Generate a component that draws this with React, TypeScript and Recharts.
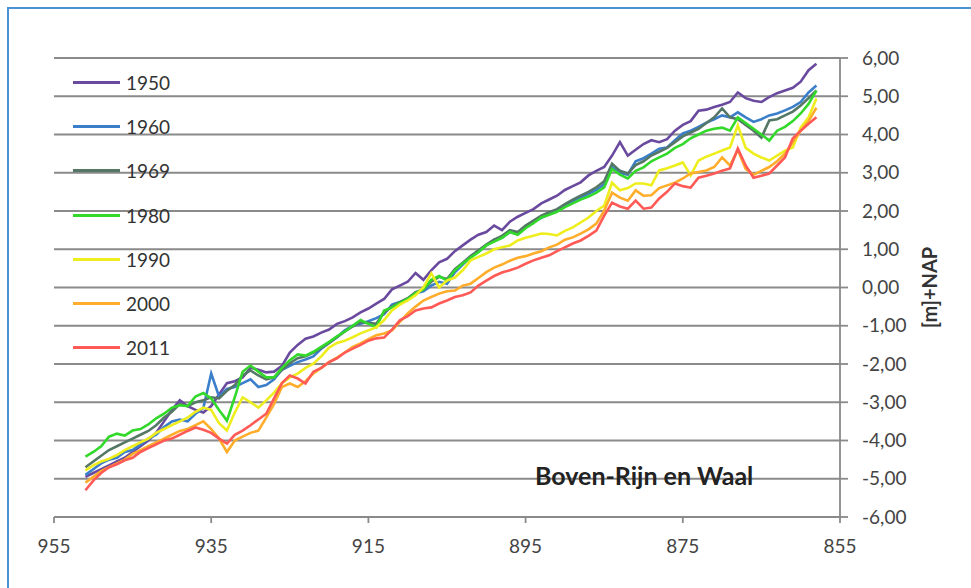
import React from "react"
import { LineChart, Line, XAxis, YAxis, CartesianGrid, Legend } from "recharts"

// rivierkilometer (Boven-Rijn en Waal), van benedenstrooms naar bovenstrooms
const KM = [
  951, 950, 949, 948, 947, 946, 945, 944, 943, 942,
  941, 940, 939, 938, 937, 936, 935, 934, 933, 932,
  931, 930, 929, 928, 927, 926, 925, 924, 923, 922,
  921, 920, 919, 918, 917, 916, 915, 914, 913, 912,
  911, 910, 909, 908, 907, 906, 905, 904, 903, 902,
  901, 900, 899, 898, 897, 896, 895, 894, 893, 892,
  891, 890, 889, 888, 887, 886, 885, 884, 883, 882,
  881, 880, 879, 878, 877, 876, 875, 874, 873, 872,
  871, 870, 869, 868, 867, 866, 865, 864, 863, 862,
  861, 860, 859, 858,
]

const Y1950 = [
  -4.95, -4.85, -4.75, -4.65, -4.55, -4.45, -4.3, -4.15, -4.0, -3.8,
  -3.5, -3.2, -2.95, -3.1, -3.2, -3.27, -3.1, -2.8, -2.5, -2.45,
  -2.35, -2.1, -2.15, -2.22, -2.2, -2.05, -1.7, -1.5, -1.34, -1.28,
  -1.18, -1.1, -0.95, -0.88, -0.78, -0.65, -0.55, -0.42, -0.3, -0.05,
  0.05, 0.15, 0.38, 0.2, 0.45, 0.66, 0.75, 0.95, 1.1, 1.25,
  1.38, 1.45, 1.62, 1.5, 1.72, 1.85, 1.95, 2.05, 2.2, 2.3,
  2.4, 2.55, 2.65, 2.75, 2.93, 3.05, 3.15, 3.45, 3.8, 3.45,
  3.6, 3.75, 3.85, 3.8, 3.88, 4.1, 4.25, 4.35, 4.62, 4.65,
  4.72, 4.78, 4.85, 5.1, 4.95, 4.88, 4.85, 4.98, 5.08, 5.15,
  5.22, 5.38, 5.68, 5.85,
]

const Y1960 = [
  -4.9, -4.75, -4.6, -4.5, -4.45, -4.3, -4.25, -4.1, -3.95, -3.85,
  -3.65, -3.5, -3.45, -3.5, -3.3, -3.15, -2.25, -2.85, -2.65, -2.6,
  -2.5, -2.4, -2.6, -2.55, -2.4, -2.15, -2.05, -1.95, -1.88, -1.8,
  -1.6, -1.45, -1.3, -1.12, -1.0, -0.95, -0.88, -0.8, -0.7, -0.45,
  -0.38, -0.3, -0.15, -0.1, 0.05, 0.15, 0.1, 0.4, 0.6, 0.8,
  0.95, 1.1, 1.25, 1.3, 1.45, 1.4, 1.6, 1.72, 1.82, 1.92,
  2.0, 2.15, 2.25, 2.35, 2.45, 2.55, 2.7, 3.15, 3.0, 2.95,
  3.3, 3.38, 3.5, 3.63, 3.66, 3.85, 4.03, 4.1, 4.2, 4.31,
  4.4, 4.5, 4.45, 4.58, 4.45, 4.33, 4.4, 4.5, 4.55, 4.63,
  4.72, 4.85, 5.1, 5.28,
]

const Y1969 = [
  -4.7, -4.55, -4.4, -4.25, -4.15, -4.05, -3.95, -3.85, -3.75, -3.6,
  -3.4, -3.25, -3.05, -3.1, -3.0, -2.95, -2.87, -2.9, -2.7, -2.55,
  -2.3, -2.17, -2.3, -2.4, -2.35, -2.15, -1.98, -1.85, -1.8, -1.7,
  -1.58, -1.45, -1.3, -1.15, -1.02, -0.9, -0.92, -0.95, -0.65, -0.5,
  -0.38, -0.28, -0.12, -0.05, 0.15, 0.28, 0.22, 0.48, 0.65, 0.82,
  0.97, 1.12, 1.25, 1.35, 1.5, 1.45, 1.62, 1.75, 1.88, 1.97,
  2.05, 2.18, 2.3, 2.4, 2.5, 2.62, 2.78, 3.24, 3.05, 2.98,
  3.2, 3.3, 3.45, 3.55, 3.65, 3.8, 3.95, 4.05, 4.15, 4.3,
  4.45, 4.68, 4.45, 4.4, 4.25, 4.1, 3.92, 4.37, 4.4, 4.5,
  4.6, 4.76, 4.95, 5.15,
]

const Y1980 = [
  -4.42, -4.3, -4.15, -3.9, -3.82, -3.87, -3.74, -3.7, -3.58, -3.42,
  -3.3, -3.14, -3.08, -3.1, -2.85, -2.76, -2.9, -3.2, -3.48, -2.87,
  -2.2, -2.04, -2.2, -2.35, -2.35, -2.1, -1.9, -1.75, -1.78, -1.68,
  -1.55, -1.42, -1.28, -1.15, -1.0, -0.85, -0.95, -1.04, -0.6, -0.52,
  -0.4, -0.3, -0.15, -0.05, 0.2, 0.3, 0.18, 0.45, 0.63, 0.78,
  0.92, 1.1, 1.2, 1.3, 1.45, 1.38, 1.55, 1.68, 1.83, 1.9,
  1.98, 2.1, 2.2, 2.3, 2.38, 2.48, 2.62, 3.1, 2.95, 2.85,
  3.05, 3.14, 3.3, 3.4, 3.5, 3.65, 3.75, 3.9, 4.0, 4.1,
  4.15, 4.18, 4.1, 4.45, 4.3, 4.15, 4.0, 3.84, 4.1, 4.2,
  4.35, 4.55, 4.8, 5.15,
]

const Y1990 = [
  -4.78, -4.65, -4.55, -4.48, -4.38, -4.25, -4.15, -4.05, -3.95, -3.8,
  -3.7, -3.6, -3.5, -3.4, -3.25, -3.14, -3.2, -3.55, -3.74, -3.27,
  -2.87, -3.0, -3.14, -2.95, -2.75, -2.5, -2.35, -2.25, -2.1, -1.99,
  -1.8, -1.57, -1.45, -1.39, -1.3, -1.2, -1.12, -1.04, -0.85, -0.6,
  -0.45, -0.34, -0.2, 0.0, 0.37, 0.0, 0.18, 0.26, 0.45, 0.71,
  0.8, 0.89, 1.0, 1.05, 1.1, 1.23, 1.3, 1.35, 1.41, 1.4,
  1.36, 1.48, 1.57, 1.7, 1.83, 2.0, 2.14, 2.74, 2.54, 2.6,
  2.72, 2.72, 2.67, 3.06, 3.12, 3.19, 3.27, 2.93, 3.32, 3.42,
  3.5, 3.58, 3.66, 4.24, 3.65, 3.5, 3.4, 3.32, 3.45, 3.58,
  3.66, 4.18, 4.45, 4.94,
]

const Y2000 = [
  -5.1, -4.95, -4.8, -4.7, -4.6, -4.5, -4.35, -4.25, -4.15, -4.05,
  -3.95, -3.85, -3.75, -3.7, -3.6, -3.5, -3.7, -3.95, -4.3, -4.0,
  -3.9, -3.8, -3.74, -3.4, -3.04, -2.6, -2.51, -2.6, -2.45, -2.25,
  -2.1, -1.95, -1.83, -1.7, -1.55, -1.46, -1.35, -1.25, -1.2, -1.12,
  -0.9, -0.68, -0.5, -0.34, -0.25, -0.16, -0.1, -0.08, 0.05, 0.1,
  0.25, 0.4, 0.52, 0.6, 0.7, 0.78, 0.82, 0.89, 0.95, 1.05,
  1.12, 1.25, 1.31, 1.41, 1.52, 1.67, 2.01, 2.48, 2.35, 2.27,
  2.54, 2.4, 2.41, 2.6, 2.67, 2.74, 2.85, 2.98, 3.02, 3.06,
  3.15, 3.4, 3.19, 3.6, 3.1, 2.95, 3.05, 3.15, 3.3, 3.5,
  3.8, 4.1, 4.35, 4.7,
]

const Y2011 = [
  -5.3, -5.05, -4.85, -4.7, -4.62, -4.52, -4.45, -4.3, -4.2, -4.1,
  -4.0, -3.95, -3.85, -3.75, -3.66, -3.72, -3.8, -3.95, -4.08, -3.85,
  -3.74, -3.6, -3.45, -3.3, -2.9, -2.5, -2.3, -2.38, -2.51, -2.2,
  -2.1, -1.95, -1.85, -1.7, -1.6, -1.5, -1.39, -1.33, -1.31, -1.1,
  -0.86, -0.75, -0.6, -0.55, -0.52, -0.42, -0.34, -0.25, -0.2, -0.13,
  0.05, 0.18, 0.3, 0.39, 0.45, 0.52, 0.62, 0.71, 0.78, 0.84,
  0.95, 1.05, 1.15, 1.23, 1.35, 1.49, 1.88, 2.22, 2.12, 2.06,
  2.27, 2.06, 2.09, 2.33, 2.5, 2.72, 2.65, 2.61, 2.87, 2.92,
  2.98, 3.05, 3.11, 3.63, 3.19, 2.87, 2.92, 2.98, 3.19, 3.4,
  3.9, 4.1, 4.28, 4.45,
]

const SERIES = [
  { key: "1950", values: Y1950, color: "#6a4a9e" },
  { key: "1960", values: Y1960, color: "#3b7fcb" },
  { key: "1969", values: Y1969, color: "#557766" },
  { key: "1980", values: Y1980, color: "#33d92a" },
  { key: "1990", values: Y1990, color: "#eeee1e" },
  { key: "2000", values: Y2000, color: "#ffad2a" },
  { key: "2011", values: Y2011, color: "#ff5a55" },
]

const X_TICKS = [955, 935, 915, 895, 875, 855]
const Y_TICKS = [-6, -5, -4, -3, -2, -1, 0, 1, 2, 3, 4, 5, 6]

const rows = KM.map((km, i) => {
  const row: Record<string, number> = { km }
  SERIES.forEach((s) => {
    row[s.key] = s.values[i]
  })
  return row
})

const FONT = "Lato, 'Noto Sans', sans-serif"
const fmt = (v: number) => v.toFixed(2).replace(".", ",")

function LegendBox({ payload }: any) {
  return (
    <div style={{ fontFamily: FONT, fontSize: 19, color: "#333" }}>
      {(payload || []).map((entry: any) => (
        <div key={entry.value} style={{ display: "flex", alignItems: "center", height: 44.3 }}>
          <span style={{ display: "inline-block", width: 47, height: 3, background: entry.color }} />
          <span style={{ marginLeft: 6 }}>{entry.value}</span>
        </div>
      ))}
    </div>
  )
}

function AxisTitle({ viewBox }: any) {
  const cx = viewBox.x + viewBox.width + 19
  const cy = viewBox.y + viewBox.height / 2
  return (
    <text
      x={cx}
      y={cy}
      transform={`rotate(-90 ${cx} ${cy})`}
      textAnchor="middle"
      dominantBaseline="central"
      fontFamily={FONT}
      fontWeight="bold"
      fontSize={20}
      fill="#333"
    >
      [m]+NAP
    </text>
  )
}

export default function App() {
  return (
    <div style={{ position: "fixed", left: 0, top: 0, width: 971, height: 588, background: "#fff", overflow: "hidden" }}>
      <div
        style={{
          position: "absolute",
          left: 7,
          top: 7,
          width: 980,
          height: 600,
          borderTop: "2px solid #4a93d2",
          borderLeft: "2px solid #4a93d2",
        }}
      />
      <LineChart width={971} height={588} data={rows} margin={{ top: 58, right: 61, left: 54, bottom: 41 }}>
        <CartesianGrid vertical={false} stroke="#8a8a8a" strokeWidth={1.8} />
        <XAxis
          dataKey="km"
          type="number"
          domain={[855, 955]}
          reversed
          ticks={X_TICKS}
          height={30}
          tickSize={6}
          tickMargin={17}
          stroke="#8a8a8a"
          strokeWidth={1.8}
          tick={{ fill: "#444", fontSize: 19, fontFamily: FONT }}
        />
        <YAxis
          orientation="right"
          width={70}
          domain={[-6, 6]}
          ticks={Y_TICKS}
          tickFormatter={fmt}
          tickSize={8}
          tickMargin={14}
          stroke="#8a8a8a"
          strokeWidth={1.8}
          tick={{ fill: "#444", fontSize: 19, fontFamily: FONT, textAnchor: "start" }}
          label={{ content: AxisTitle }}
        />
        <Legend
          layout="vertical"
          align="center"
          verticalAlign="middle"
          wrapperStyle={{ left: 73, top: 60, width: 120 }}
          content={<LegendBox />}
        />
        {SERIES.map((s) => (
          <Line
            key={s.key}
            dataKey={s.key}
            name={s.key}
            type="linear"
            stroke={s.color}
            strokeWidth={2.6}
            dot={false}
            isAnimationActive={false}
          />
        ))}
      </LineChart>
      <div
        style={{
          position: "absolute",
          left: 535,
          top: 463,
          fontFamily: FONT,
          fontWeight: "bold",
          fontSize: 25,
          lineHeight: "25px",
          color: "#222",
          whiteSpace: "nowrap",
        }}
      >
        Boven-Rijn en Waal
      </div>
    </div>
  )
}
